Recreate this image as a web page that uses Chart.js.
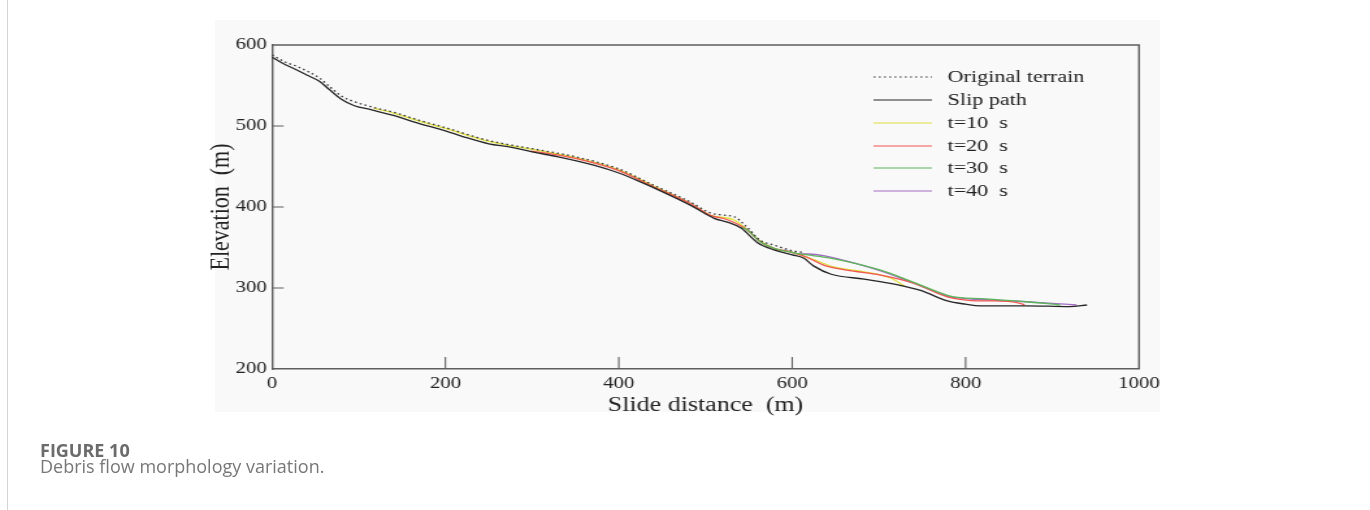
<!DOCTYPE html>
<html><head><meta charset="utf-8">
<script src="https://cdn.jsdelivr.net/npm/chart.js@4.4.1/dist/chart.umd.min.js"></script>
<style>
html,body{margin:0;padding:0;background:#fff;width:1370px;height:510px;overflow:hidden;position:relative}
#border{position:absolute;left:7px;top:0;width:1px;height:510px;background:#d4d4d4}
#figbg{position:absolute;left:215px;top:20px;width:945px;height:392px;background:#f9f9f9}
#wrap{position:absolute;left:0;top:0;width:1054px;height:510px;transform:scaleX(1.29981);transform-origin:0 0}
.cap{position:absolute;left:40px;font-family:"Open Sans",sans-serif;font-size:18px;line-height:18px;white-space:nowrap}
#cap1{top:441px;font-weight:700;color:#6b6b6b}
#cap2{top:457px;color:#777}
</style></head>
<body>
<div id="border"></div>
<div id="figbg"></div>
<div id="wrap"><canvas id="c" width="1054" height="510"></canvas></div>
<div class="cap" id="cap1">FIGURE 10</div>
<div class="cap" id="cap2">Debris flow morphology variation.</div>
<script>
// ---- data (slide distance m, elevation m) ----
const xTicks = [0, 200, 400, 600, 800, 1000];
const yTicks = [200, 300, 400, 500, 600];
const legendLabels = ["Original terrain", "Slip path", "t=10  s", "t=20  s", "t=30  s", "t=40  s"];

const origX = [0,15,30,55,65,80,95,117,140,170,200,250,300,350,400,440,483,505,520,533,548,563,579,600,612];
const origY = [588,579,573,559,550,537,530,523,517,507,498,482,472,462,447,427,406,393,390,388,375,359,353,346,344];

const slipX = [0,8,15,25,40,55,65,80,95,115,140,170,200,220,250,275,300,330,370,400,425,450,483,510,526,541,560,579,600,613,625,645,683,722,748,779,800,817,870,920,940];
const slipY = [585,580,576,571,563,555,546,533,525,520,513,503,494,487,478,474,468,462,452,442,431,419,402,386,381,374,356,347,341,337,327,317,311,304,297,284,280,278,278,277,279];

const t10X = [117,140,170,200,250,300,350,400,440,483,505,533,548,563,579,600,625,648,683,714,730];
const t10Y = [522,516,506,497,481,471,461,446,426,404,390,384,372,358,349,344,335,326,320,312,302];

const t20X = [298,320,350,400,440,483,505,526,548,563,579,600,617,637,663,702,740,779,794,817,832,863,868];
const t20Y = [469,466,460,445,425,404,390,384,372,357,349,344,338,328,322,316,306,289,286,284,284,281,279];

const t30X = [540,548,563,579,600,609,644,702,740,779,794,817,832,870,901,909];
const t30Y = [375,372,357,349,344,342,337,322,307,291,288,287,286,283,280,279];

const t40X = [590,609,620,636,660,702,740,779,800,832,870,900,928];
const t40Y = [347,342,342,340,334,321,306,290,287,285,283,281,279];

const pts = (xs, ys) => xs.map((x, i) => ({x: x, y: ys[i]}));

const S = 1.29981; // horizontal stretch of the figure
const AX = '#5e5e5e';
const serif = '"Liberation Serif", "Times New Roman", serif';

function ds(label, xs, ys, color, order, dash) {
  return {label, data: pts(xs, ys), borderColor: color, backgroundColor: color,
    borderWidth: 1.3, pointRadius: 0, fill: false, order,
    borderDash: dash || [], cubicInterpolationMode: 'monotone'};
}

const datasets = [
  ds(legendLabels[0], origX, origY, '#3a3a3a', 2, [1.6, 2.4]),
  ds(legendLabels[1], slipX, slipY, '#262626', 1),
  ds(legendLabels[2], t10X, t10Y, '#e0e040', 5),
  ds(legendLabels[3], t20X, t20Y, '#f0564e', 4),
  ds(legendLabels[4], t30X, t30Y, '#5cb45a', 3),
  ds(legendLabels[5], t40X, t40Y, '#a46cc4', 6)
];

const framePlugin = {
  id: 'frame',
  afterDatasetsDraw(chart) {
    const {ctx, chartArea: a, scales} = chart;
    ctx.save();
    ctx.strokeStyle = AX; ctx.lineWidth = 1.4;
    ctx.beginPath();
    ctx.moveTo(a.left, a.top); ctx.lineTo(a.right, a.top); ctx.lineTo(a.right, a.bottom);
    ctx.stroke();
    ctx.lineWidth = 1.1;
    ctx.beginPath();
    [300, 400, 500].forEach(v => {
      const y = scales.y.getPixelForValue(v);
      ctx.moveTo(a.left, y); ctx.lineTo(a.left + 9, y);
    });
    [200, 400, 600, 800].forEach(v => {
      const x = scales.x.getPixelForValue(v);
      ctx.moveTo(x, a.bottom); ctx.lineTo(x, a.bottom - 12);
    });
    ctx.stroke();
    // legend
    const lx0 = 672, lx1 = 717, tx = 729;
    const rows = [77, 100, 123, 146, 168, 191];
    ctx.font = '17px ' + serif;
    ctx.textBaseline = 'middle';
    ctx.textAlign = 'left';
    datasets.forEach((d, i) => {
      ctx.strokeStyle = d.borderColor;
      ctx.lineWidth = 1.2;
      ctx.setLineDash(d.borderDash);
      ctx.beginPath(); ctx.moveTo(lx0, rows[i]); ctx.lineTo(lx1, rows[i]); ctx.stroke();
      ctx.setLineDash([]);
      ctx.fillStyle = '#222';
      ctx.fillText(d.label, tx, rows[i] + 1);
    });
    ctx.restore();
  }
};

new Chart(document.getElementById('c'), {
  type: 'line',
  data: {datasets},
  options: {
    responsive: false, animation: false, devicePixelRatio: 1,
    layout: {padding: {left: 157, top: 45, right: 1054 - 1139 / S, bottom: 92}},
    plugins: {legend: {display: false}, tooltip: {enabled: false}},
    scales: {
      x: {type: 'linear', min: 0, max: 1000,
        afterBuildTicks: s => { s.ticks = xTicks.map(v => ({value: v})); },
        afterFit: s => { s.height = 49; },
        grid: {display: false, drawTicks: false},
        border: {display: true, color: AX, width: 1.4},
        ticks: {padding: 5, color: '#222', font: {family: serif, size: 16}, maxRotation: 0, autoSkip: false,
          callback: v => String(v)},
        title: {display: true, text: 'Slide distance  (m)', color: '#222', font: {family: serif, size: 20}, padding: {top: 0, bottom: 0}}
      },
      y: {type: 'linear', min: 200, max: 600,
        afterBuildTicks: s => { s.ticks = yTicks.map(v => ({value: v})); },
        afterFit: s => { s.width = 272 / S - 157; },
        grid: {display: false, drawTicks: false},
        border: {display: true, color: AX, width: 1.4},
        ticks: {padding: 4, color: '#222', font: {family: serif, size: 16}, callback: v => String(v)},
        title: {display: true, text: 'Elevation  (m)', color: '#222', font: {family: serif, size: 22}, padding: {top: 0, bottom: 0}}
      }
    }
  },
  plugins: [framePlugin]
});
</script>
</body></html>
